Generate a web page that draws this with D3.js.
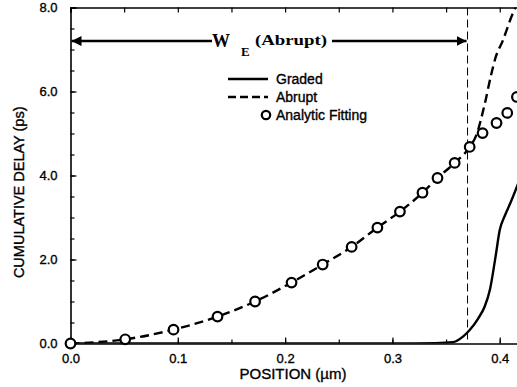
<!DOCTYPE html>
<html>
<head>
<meta charset="utf-8">
<script src="https://cdn.jsdelivr.net/npm/d3@7"></script>
<style>
  body { margin: 0; background: #fff; }
  svg { display: block; }
  text { font-family: "Liberation Sans", Arial, sans-serif; fill: #000; }
  .lbl { stroke: #000; stroke-width: 0.35px; }
</style>
</head>
<body>
<div id="chart"></div>
<script>
// values
const fitX = [0, 0.051, 0.096, 0.137, 0.172, 0.206, 0.235, 0.262, 0.286, 0.307, 0.328, 0.342, 0.358, 0.372, 0.384, 0.397, 0.407, 0.416];
const fitY = [0, 0.10, 0.33, 0.64, 1.00, 1.45, 1.88, 2.30, 2.76, 3.14, 3.59, 3.94, 4.30, 4.68, 5.01, 5.25, 5.49, 5.87];

const abruptX = [0, 0.051, 0.096, 0.137, 0.172, 0.206, 0.235, 0.262, 0.286, 0.307, 0.328, 0.342, 0.358, 0.372, 0.378, 0.386, 0.392, 0.396, 0.403, 0.410, 0.417];
const abruptY = [0, 0.10, 0.33, 0.64, 1.00, 1.45, 1.88, 2.30, 2.76, 3.14, 3.59, 3.94, 4.30, 4.68, 4.95, 5.70, 6.40, 6.80, 7.22, 7.72, 8.15];

const gradedX = [0, 0.30, 0.34, 0.356, 0.366, 0.372, 0.380, 0.386, 0.391, 0.396, 0.400, 0.405, 0.410, 0.417];
const gradedY = [0, 0, 0.01, 0.03, 0.17, 0.32, 0.60, 0.88, 1.30, 2.05, 2.70, 3.06, 3.35, 3.80];

const xTicks = [0, 0.1, 0.2, 0.3, 0.4];
const yTicks = [0, 2, 4, 6, 8];
const edgeX = 0.37; // W_E (Abrupt)
const arrowY = 7.2;

const width = 517, height = 387;
const x = d3.scaleLinear().domain([0, 0.42]).range([70.5, 521.2]);
const y = d3.scaleLinear().domain([0, 8]).range([343.5, 7.5]);

const svg = d3.select('#chart').append('svg')
    .attr('width', width)
    .attr('height', height);

svg.append('defs').append('clipPath').attr('id', 'plot')
    .append('rect')
    .attr('x', x(0)).attr('y', y(8))
    .attr('width', x(0.42) - x(0)).attr('height', y(0) - y(8));

// axes: ticks pointing inward
const minorX = d3.range(0, 0.42, 0.05);
const minorY = d3.range(0, 8.01, 0.5);

svg.append('g')
    .attr('transform', `translate(0,${y(0)})`)
    .call(d3.axisBottom(x).tickValues(minorX).tickSize(-4).tickFormat(''))
    .call(g => g.select('.domain').remove());
svg.append('g')
    .attr('transform', `translate(0,${y(0)})`)
    .call(d3.axisBottom(x).tickValues(xTicks).tickSize(-6).tickPadding(10).tickFormat(d3.format('.1f')))
    .call(g => g.selectAll('text').attr('class', 'lbl').style('font-size', '13px').attr('dy', '0.71em'));

svg.append('g')
    .attr('transform', `translate(0,${y(8)})`)
    .call(d3.axisTop(x).tickValues(minorX).tickSize(-5).tickFormat(''));

svg.append('g')
    .attr('transform', `translate(${x(0)},0)`)
    .call(d3.axisLeft(y).tickValues(minorY).tickSize(-4).tickFormat(''))
    .call(g => g.select('.domain').remove());
svg.append('g')
    .attr('transform', `translate(${x(0)},0)`)
    .call(d3.axisLeft(y).tickValues(yTicks).tickSize(-6).tickPadding(13).tickFormat(d3.format('.1f')))
    .call(g => g.selectAll('text').attr('class', 'lbl').style('font-size', '13px'));

svg.selectAll('.domain').attr('stroke-width', 1.6);
svg.selectAll('.tick line').attr('stroke-width', 1.2);

// axis titles
svg.append('text')
    .attr('x', 293).attr('y', 379)
    .attr('text-anchor', 'middle')
    .attr('class', 'lbl')
    .style('font-size', '15px')
    .text('POSITION (\u00b5m)');

svg.append('text')
    .attr('transform', `translate(24,${y(3.6)}) rotate(-90)`)
    .attr('text-anchor', 'middle')
    .attr('class', 'lbl')
    .style('font-size', '14.5px')
    .text('CUMULATIVE DELAY (ps)');

// series
const plot = svg.append('g').attr('clip-path', 'url(#plot)');
const line = d3.line().x(d => x(d[0])).y(d => y(d[1])).curve(d3.curveMonotoneX);

plot.append('line')
    .attr('x1', x(edgeX)).attr('x2', x(edgeX))
    .attr('y1', y(8)).attr('y2', y(0))
    .attr('stroke', '#000').attr('stroke-width', 1)
    .attr('stroke-dasharray', '8,4');

plot.append('path')
    .datum(gradedX.map((v, i) => [v, gradedY[i]]))
    .attr('d', line)
    .attr('fill', 'none').attr('stroke', '#000').attr('stroke-width', 2.4);

plot.append('path')
    .datum(abruptX.map((v, i) => [v, abruptY[i]]))
    .attr('d', line)
    .attr('fill', 'none').attr('stroke', '#000').attr('stroke-width', 2.4)
    .attr('stroke-dasharray', '9,5');

svg.append('g').selectAll('circle')
    .data(fitX.map((v, i) => [v, fitY[i]]))
    .join('circle')
    .attr('cx', d => x(d[0])).attr('cy', d => y(d[1]))
    .attr('r', 4.8)
    .attr('fill', '#fff').attr('stroke', '#000').attr('stroke-width', 2.2);

// W_E (Abrupt) annotation with arrows
const defs = svg.select('defs');
defs.append('marker')
    .attr('id', 'arrow')
    .attr('viewBox', '0 0 10 10')
    .attr('refX', 10).attr('refY', 5)
    .attr('markerWidth', 4).attr('markerHeight', 4)
    .attr('orient', 'auto-start-reverse')
    .append('path').attr('d', 'M0,0L10,5L0,10z').attr('fill', '#000');

svg.append('line')
    .attr('x1', 212).attr('x2', x(0) + 1)
    .attr('y1', y(arrowY)).attr('y2', y(arrowY))
    .attr('stroke', '#000').attr('stroke-width', 2.5)
    .attr('marker-end', 'url(#arrow)');
svg.append('line')
    .attr('x1', 332).attr('x2', x(edgeX) - 1)
    .attr('y1', y(arrowY)).attr('y2', y(arrowY))
    .attr('stroke', '#000').attr('stroke-width', 2.5)
    .attr('marker-end', 'url(#arrow)');

const serif = '"Liberation Serif", "Times New Roman", serif';
svg.append('text').attr('x', 212).attr('y', y(arrowY) + 6)
    .style('font-family', serif).style('font-weight', 'bold').style('font-size', '18px')
    .text('W');
svg.append('text').attr('x', 241).attr('y', y(arrowY) + 15)
    .style('font-family', serif).style('font-weight', 'bold').style('font-size', '13px')
    .text('E');
svg.append('text').attr('x', 255).attr('y', y(arrowY) + 4)
    .style('font-family', serif).style('font-weight', 'bold').style('font-size', '15px')
    .attr('textLength', 72).attr('lengthAdjust', 'spacingAndGlyphs')
    .text('(Abrupt)');

// legend
const legend = svg.append('g').attr('transform', 'translate(228,79)');
const items = ['Graded', 'Abrupt', 'Analytic Fitting'];
items.forEach((name, i) => {
    const g = legend.append('g').attr('transform', `translate(0,${i * 18})`);
    if (i < 2) {
        g.append('line').attr('x1', 0).attr('x2', 40)
            .attr('stroke', '#000').attr('stroke-width', 2.4)
            .attr('stroke-dasharray', i === 1 ? '8,4' : null);
    } else {
        g.append('circle').attr('cx', 38).attr('r', 4.2)
            .attr('fill', '#fff').attr('stroke', '#000').attr('stroke-width', 2.2);
    }
    g.append('text').attr('x', 48).attr('dy', '0.35em')
        .attr('class', 'lbl')
        .style('font-size', '14px')
        .text(name);
});
</script>
</body>
</html>
